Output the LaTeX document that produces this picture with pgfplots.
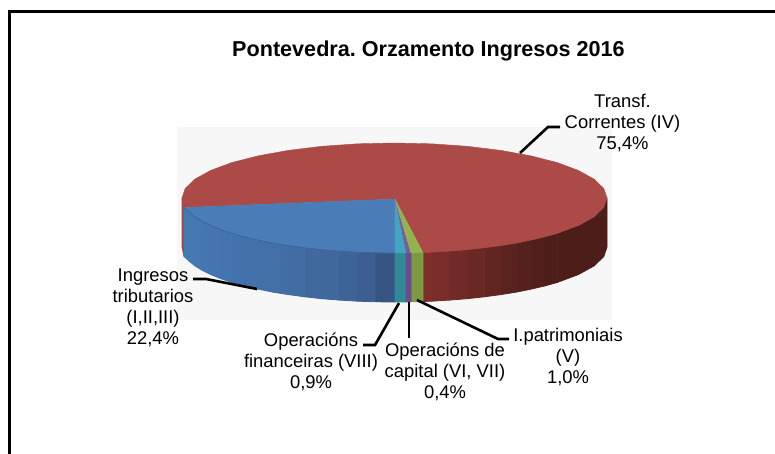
\documentclass[border=0pt]{standalone}
\usepackage{fontspec}
\setmainfont{Liberation Sans}
\usepackage{xcolor}
\usepackage{pgfplots}
\pgfplotsset{compat=1.18}
\frenchspacing
\definecolor{plotbg}{HTML}{F7F7F7}
\definecolor{redtop}{HTML}{AB4A47}
\definecolor{bluetop}{HTML}{4A7DB8}
\definecolor{cyantop}{HTML}{3FA6C0}
\definecolor{purpletop}{HTML}{7360A0}
\definecolor{greentop}{HTML}{94B34F}
\definecolor{redleft}{HTML}{9A4A48}
\definecolor{cyanwall}{HTML}{2F8A96}
\definecolor{purplewall}{HTML}{6A4D8F}
\definecolor{greenwall}{HTML}{7D9A42}
\definecolor{bluerim}{HTML}{3B6396}
\definecolor{blue1}{HTML}{4578B2}
\definecolor{blue2}{HTML}{4577B0}
\definecolor{blue3}{HTML}{4475AE}
\definecolor{blue4}{HTML}{4373AC}
\definecolor{blue5}{HTML}{4271A8}
\definecolor{blue6}{HTML}{416DA3}
\definecolor{blue7}{HTML}{40689C}
\definecolor{blue8}{HTML}{3C5E90}
\definecolor{red1}{HTML}{7F2E2C}
\definecolor{red2}{HTML}{722A27}
\definecolor{red3}{HTML}{622522}
\definecolor{red4}{HTML}{55211D}
\definecolor{red5}{HTML}{4C1D19}
\tikzset{
  wall/.style={fill=#1, draw=#1, line width=0.8pt, line join=round},
  leader/.style={black, line width=2.6pt, line join=miter},
  lab/.style={align=center, inner sep=0pt, font=\fontsize{18.4}{20.8}\selectfont}
}
\begin{document}
\begin{tikzpicture}
\begin{axis}[
  scale only axis, width=775pt, height=454pt,
  xmin=0, xmax=775, ymin=0, ymax=454, y dir=reverse,
  hide axis]
  % page and plot area
  \addplot[fill=white, draw=none] coordinates {(0,0) (775,0) (775,454) (0,454)} -- cycle;
  \addplot[fill=plotbg, draw=none] coordinates {(177,127) (612,127) (612,320) (177,320)} -- cycle;
  % frame, cut by the right and bottom edges
  \addplot[black, line width=2.8pt] coordinates {(9.7,454) (9.7,11.7) (775,11.7)};

  % side wall, red part at far left
  \addplot[wall=redleft] coordinates {(182,198) (184,207.5) (184,256.5) (182,247)} -- cycle;
  % side wall, blue
  \addplot[wall=blue1] coordinates {(184,207.5) (189.2,212.2) (189.2,261.2) (184,256.5)} -- cycle;
  \addplot[wall=blue1!50!blue2] coordinates {(189.2,212.2) (194.8,216.8) (194.8,265.8) (189.2,261.2)} -- cycle;
  \addplot[wall=blue2] coordinates {(194.8,216.8) (201.9,221.2) (201.9,270.2) (194.8,265.8)} -- cycle;
  \addplot[wall=blue2!50!blue3] coordinates {(201.9,221.2) (210.5,225.5) (210.5,274.5) (201.9,270.2)} -- cycle;
  \addplot[wall=blue3] coordinates {(210.5,225.5) (220.4,229.5) (220.4,278.5) (210.5,274.5)} -- cycle;
  \addplot[wall=blue3!50!blue4] coordinates {(220.4,229.5) (231.7,233.4) (231.7,282.4) (220.4,278.5)} -- cycle;
  \addplot[wall=blue4] coordinates {(231.7,233.4) (244.2,236.9) (244.2,285.9) (231.7,282.4)} -- cycle;
  \addplot[wall=blue4!50!blue5] coordinates {(244.2,236.9) (257.9,240.1) (257.9,289.1) (244.2,285.9)} -- cycle;
  \addplot[wall=blue5] coordinates {(257.9,240.1) (272.6,243.1) (272.6,292.1) (257.9,289.1)} -- cycle;
  \addplot[wall=blue5!50!blue6] coordinates {(272.6,243.1) (288.2,245.6) (288.2,294.6) (272.6,292.1)} -- cycle;
  \addplot[wall=blue6] coordinates {(288.2,245.6) (304.7,247.8) (304.7,296.8) (288.2,294.6)} -- cycle;
  \addplot[wall=blue6!50!blue7] coordinates {(304.7,247.8) (321.8,249.7) (321.8,298.7) (304.7,296.8)} -- cycle;
  \addplot[wall=blue7] coordinates {(321.8,249.7) (339.5,251.1) (339.5,300.1) (321.8,298.7)} -- cycle;
  \addplot[wall=blue7!50!blue8] coordinates {(339.5,251.1) (357.6,252.2) (357.6,301.2) (339.5,300.1)} -- cycle;
  \addplot[wall=blue8] coordinates {(357.6,252.2) (376,252.8) (376,301.8) (357.6,301.2)} -- cycle;
  \addplot[wall=blue8!90!black] coordinates {(376,252.8) (395,253) (395,302) (376,301.8)} -- cycle;
  % side wall, red (drawn from the right so each seam is covered towards the slices)
  \addplot[wall=red5] coordinates {(603.8,207.5) (607,198) (607,247) (603.8,256.5)} -- cycle;
  \addplot[wall=red5] coordinates {(594.2,216.8) (603.8,207.5) (603.8,256.5) (594.2,265.8)} -- cycle;
  \addplot[wall=red5] coordinates {(578.5,225.5) (594.2,216.8) (594.2,265.8) (578.5,274.5)} -- cycle;
  \addplot[wall=red5] coordinates {(557.3,233.4) (578.5,225.5) (578.5,274.5) (557.3,282.4)} -- cycle;
  \addplot[wall=red5] coordinates {(544.8,236.9) (557.3,233.4) (557.3,282.4) (544.8,285.9)} -- cycle;
  \addplot[wall=red4!50!red5] coordinates {(531.1,240.1) (544.8,236.9) (544.8,285.9) (531.1,289.1)} -- cycle;
  \addplot[wall=red4] coordinates {(516.4,243.1) (531.1,240.1) (531.1,289.1) (516.4,292.1)} -- cycle;
  \addplot[wall=red3!50!red4] coordinates {(500.8,245.6) (516.4,243.1) (516.4,292.1) (500.8,294.6)} -- cycle;
  \addplot[wall=red3] coordinates {(484.3,247.8) (500.8,245.6) (500.8,294.6) (484.3,296.8)} -- cycle;
  \addplot[wall=red2!50!red3] coordinates {(467.2,249.7) (484.3,247.8) (484.3,296.8) (467.2,298.7)} -- cycle;
  \addplot[wall=red2] coordinates {(449.5,251.1) (467.2,249.7) (467.2,298.7) (449.5,300.1)} -- cycle;
  \addplot[wall=red1!50!red2] coordinates {(431.4,252.2) (449.5,251.1) (449.5,300.1) (431.4,301.2)} -- cycle;
  \addplot[wall=red1] coordinates {(423,252.5) (431.4,252.2) (431.4,301.2) (423,301.5)} -- cycle;
  % side wall, small slices
  \addplot[wall=cyanwall] coordinates {(395,253) (406,252.9) (406,301.9) (395,302)} -- cycle;
  \addplot[wall=greenwall] coordinates {(411,252.8) (423,252.5) (423,301.5) (411,301.8)} -- cycle;
  \addplot[wall=purplewall] coordinates {(406,252.9) (411,252.8) (411,301.8) (406,301.9)} -- cycle;

  % top face: Transf. Correntes (IV) 75,4%
  \addplot[fill=redtop, draw=redtop, line width=0.4pt] coordinates {(395,199) (423,252.5) (431.4,252.2) (449.5,251.1) (467.2,249.7)
    (484.3,247.8) (500.8,245.6) (516.4,243.1) (531.1,240.1) (544.8,236.9) (557.3,233.4)
    (578.5,225.5) (594.2,216.8) (603.8,207.5) (607,198)
    (603.8,188.5) (594.2,179.2) (578.5,170.5) (557.3,162.6) (531.1,155.9) (500.8,150.4)
    (467.2,146.3) (431.4,143.8) (394.5,143) (357.6,143.8) (321.8,146.3) (288.2,150.4)
    (257.9,155.9) (231.7,162.6) (210.5,170.5) (194.8,179.2) (185.2,188.5) (182,198)
    (184,207.5)} -- cycle;
  % top face: Ingresos tributarios 22,4%
  \addplot[fill=bluetop, draw=bluetop, line width=0.4pt] coordinates {(395,199) (184,207.5) (189.2,212.2) (194.8,216.8) (201.9,221.2)
    (210.5,225.5) (220.4,229.5) (231.7,233.4) (244.2,236.9) (257.9,240.1) (272.6,243.1)
    (288.2,245.6) (304.7,247.8) (321.8,249.7) (339.5,251.1) (357.6,252.2) (376,252.8) (395,253)} -- cycle;
  % top face: the three small slices
  \addplot[fill=cyantop, draw=cyantop, line width=0.1pt] coordinates {(395,199) (395,253) (406,252.9)} -- cycle;
  \addplot[fill=purpletop, draw=purpletop, line width=0.1pt] coordinates {(395,199) (406,252.9) (411,252.8)} -- cycle;
  \addplot[fill=greentop, draw=greentop, line width=0.1pt] coordinates {(395,199) (411,252.8) (423,252.5)} -- cycle;
  % darker rim between top face and wall on the blue slice
  \addplot[color=bluerim, line width=0.7pt] coordinates {(184,207.5) (189.2,212.2) (194.8,216.8) (201.9,221.2)
    (210.5,225.5) (220.4,229.5) (231.7,233.4) (244.2,236.9) (257.9,240.1) (272.6,243.1)
    (288.2,245.6) (304.7,247.8) (321.8,249.7) (339.5,251.1) (357.6,252.2) (376,252.8) (395,253)};

  % leader lines
  \addplot[leader] coordinates {(520,153) (548,127) (560,127)};
  \addplot[leader] coordinates {(193,279) (206,279) (257,289)};
  \addplot[leader] coordinates {(363,345) (375,345) (399,303)};
  \addplot[leader] coordinates {(409,302) (409,338)};
  \addplot[leader] coordinates {(417,300) (498,339) (509,339)};

  % texts
  \node[inner sep=0pt, font=\fontsize{21.6}{25}\selectfont\bfseries] at (axis cs:428.5,51) {Pontevedra. Orzamento Ingresos 2016};
  \node[lab] at (axis cs:622.5,123) {Transf.\\Correntes (IV)\\75,4\%};
  \node[lab] at (axis cs:153,308) {Ingresos\\tributarios\\(I,II,III)\\22,4\%};
  \node[lab] at (axis cs:311,362) {Operacións\\financeiras (VIII)\\0,9\%};
  \node[lab] at (axis cs:445,372) {Operacións de\\capital (VI, VII)\\0,4\%};
  \node[lab] at (axis cs:568,357) {I.patrimoniais\\(V)\\1,0\%};
\end{axis}
\end{tikzpicture}
\end{document}
